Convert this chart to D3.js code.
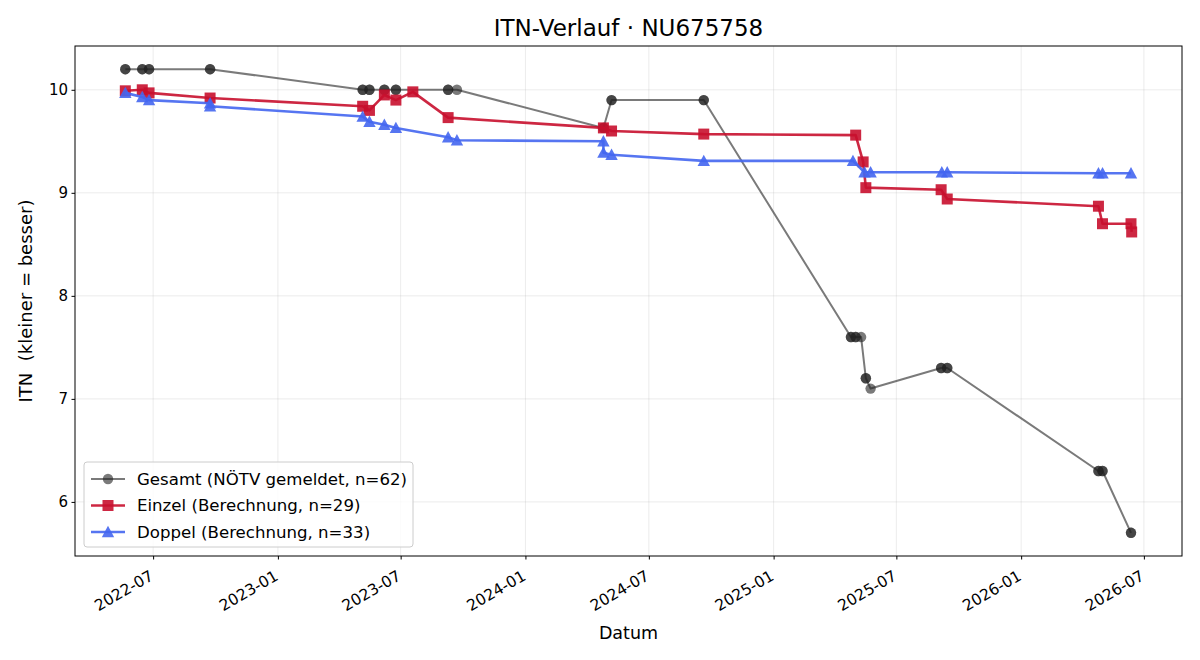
<!DOCTYPE html>
<html>
<head>
<meta charset="utf-8">
<script src="https://cdn.jsdelivr.net/npm/d3@7"></script>
<style>
  body { margin: 0; background: #fff; }
  svg text { font-family: "DejaVu Sans", sans-serif; fill: #000; }
</style>
</head>
<body>
<div id="chart"></div>
<script>
// chart data
const gesamtDates = ["2022-05-21","2022-05-21","2022-06-15","2022-06-15","2022-06-25","2022-06-25","2022-09-23","2022-09-23",
  "2023-05-06","2023-05-06","2023-05-16","2023-05-16","2023-06-07","2023-06-07","2023-06-24","2023-06-24",
  "2023-09-09","2023-09-09","2023-09-22","2024-04-25","2024-04-25","2024-05-07","2024-05-07","2024-09-20","2024-09-20",
  "2025-04-25","2025-04-25","2025-05-02","2025-05-02","2025-05-10","2025-05-17","2025-05-17","2025-05-24",
  "2025-09-05","2025-09-05","2025-09-14","2025-09-14","2026-04-25","2026-04-25","2026-05-01","2026-05-01","2026-06-12","2026-06-12"];
const gesamtValues = [10.2,10.2,10.2,10.2,10.2,10.2,10.2,10.2,
  10.0,10.0,10.0,10.0,10.0,10.0,10.0,10.0,
  10.0,10.0,10.0,9.63,9.63,9.9,9.9,9.9,9.9,
  7.6,7.6,7.6,7.6,7.6,7.2,7.2,7.1,
  7.3,7.3,7.3,7.3,6.3,6.3,6.3,6.3,5.7,5.7];

const einzelDates = ["2022-05-21","2022-06-15","2022-06-25","2022-09-23","2023-05-06","2023-05-16","2023-06-07","2023-06-24",
  "2023-07-19","2023-09-09","2024-04-25","2024-05-07","2024-09-20","2025-05-02","2025-05-13","2025-05-17",
  "2025-09-05","2025-09-14","2026-04-25","2026-05-01","2026-06-12","2026-06-13"];
const einzelValues = [9.99,10.0,9.97,9.92,9.84,9.80,9.95,9.90,
  9.98,9.73,9.63,9.60,9.57,9.56,9.30,9.05,
  9.03,8.94,8.87,8.70,8.70,8.62];

const doppelDates = ["2022-05-21","2022-06-15","2022-06-25","2022-09-23","2022-09-23","2023-05-06","2023-05-16","2023-06-07",
  "2023-06-24","2023-09-09","2023-09-22","2024-04-25","2024-04-25","2024-05-07","2024-09-20","2025-04-28",
  "2025-05-15","2025-05-24","2025-09-06","2025-09-14","2026-04-25","2026-05-01","2026-06-12"];
const doppelValues = [9.97,9.93,9.90,9.87,9.84,9.74,9.69,9.66,
  9.63,9.54,9.51,9.50,9.39,9.37,9.31,9.31,
  9.20,9.20,9.20,9.20,9.19,9.19,9.19];

const legendLabels = ["Gesamt (NÖTV gemeldet, n=62)", "Einzel (Berechnung, n=29)", "Doppel (Berechnung, n=33)"];
const yTicks = [6, 7, 8, 9, 10];

const width = 1200, height = 660;
const margin = {top: 46, right: 18, bottom: 104, left: 75};
const plotW = width - margin.left - margin.right;
const plotH = height - margin.top - margin.bottom;

const parseDate = d3.timeParse("%Y-%m-%d");
const toPoints = (dates, values) => dates.map((d, i) => ({date: parseDate(d), value: values[i]}));

const series = [
  {name: legendLabels[0], points: toPoints(gesamtDates, gesamtValues), color: "#222222", opacity: 0.6, lw: 2, marker: "circle"},
  {name: legendLabels[1], points: toPoints(einzelDates, einzelValues), color: "#c8102e", opacity: 0.9, lw: 2.6, marker: "square"},
  {name: legendLabels[2], points: toPoints(doppelDates, doppelValues), color: "#4466f0", opacity: 0.9, lw: 2.6, marker: "triangle"}
];

const allPts = series.flatMap(s => s.points);
// matplotlib-like 5% margins
const [xMin, xMax] = d3.extent(allPts, d => +d.date);
const [yMin, yMax] = d3.extent(allPts, d => d.value);
const xPad = (xMax - xMin) * 0.05, yPad = (yMax - yMin) * 0.05;

const x = d3.scaleTime().domain([new Date(xMin - xPad), new Date(xMax + xPad)]).range([0, plotW]);
const y = d3.scaleLinear().domain([yMin - yPad, yMax + yPad]).range([plotH, 0]);

const svg = d3.select("#chart")
  .append("svg")
  .attr("width", width)
  .attr("height", height);

svg.append("text")
  .attr("x", margin.left + plotW / 2)
  .attr("y", 36)
  .attr("text-anchor", "middle")
  .style("font-size", "23px")
  .text("ITN-Verlauf · NU675758");

const g = svg.append("g").attr("transform", `translate(${margin.left},${margin.top})`);

const xTicks = x.ticks(d3.timeMonth.every(6)).filter(d => d.getMonth() === 0 || d.getMonth() === 6);

// grid
g.append("g").selectAll("line")
  .data(xTicks).enter().append("line")
  .attr("x1", d => x(d)).attr("x2", d => x(d))
  .attr("y1", 0).attr("y2", plotH)
  .attr("stroke", "#b0b0b0").attr("stroke-opacity", 0.3).attr("stroke-width", 0.8);
g.append("g").selectAll("line")
  .data(yTicks).enter().append("line")
  .attr("x1", 0).attr("x2", plotW)
  .attr("y1", d => y(d)).attr("y2", d => y(d))
  .attr("stroke", "#b0b0b0").attr("stroke-opacity", 0.3).attr("stroke-width", 0.8);

// axes
const xAxis = g.append("g")
  .attr("transform", `translate(0,${plotH})`)
  .call(d3.axisBottom(x).tickValues(xTicks).tickFormat(d3.timeFormat("%Y-%m")).tickSizeOuter(0).tickSize(3.5).tickPadding(3.5));
xAxis.select(".domain").remove();
xAxis.selectAll("line").attr("stroke", "#000");
xAxis.selectAll("text")
  .style("font-size", "15.5px")
  .attr("text-anchor", "end")
  .attr("dy", null)
  .attr("y", null)
  .attr("transform", "translate(1,23) rotate(-30)");

const yAxis = g.append("g")
  .call(d3.axisLeft(y).tickValues(yTicks).tickFormat(d3.format("d")).tickSizeOuter(0).tickSize(3.5).tickPadding(3.5));
yAxis.select(".domain").remove();
yAxis.selectAll("line").attr("stroke", "#000");
yAxis.selectAll("text").style("font-size", "15px");

// lines + markers
const line = d3.line().x(d => x(d.date)).y(d => y(d.value));

function markerPath(type) {
  if (type === "circle") return d3.symbol(d3.symbolCircle, Math.PI * 5.2 * 5.2)();
  if (type === "square") return "M-5.5,-5.5H5.5V5.5H-5.5Z";
  return "M0,-6.2L6.2,5.2L-6.2,5.2Z";
}

series.forEach(s => {
  const sg = g.append("g").attr("class", "series");
  sg.append("path")
    .datum(s.points)
    .attr("d", line)
    .attr("fill", "none")
    .attr("stroke", s.color)
    .attr("stroke-opacity", s.opacity)
    .attr("stroke-width", s.lw)
    .attr("stroke-linejoin", "round");
  sg.selectAll(".mk")
    .data(s.points)
    .enter().append("path")
    .attr("class", "mk")
    .attr("transform", d => `translate(${x(d.date)},${y(d.value)})`)
    .attr("d", markerPath(s.marker))
    .attr("fill", s.color)
    .attr("fill-opacity", s.opacity);
});

// frame
g.append("rect")
  .attr("width", plotW).attr("height", plotH)
  .attr("fill", "none").attr("stroke", "#000").attr("stroke-width", 1);

// axis labels
svg.append("text")
  .attr("x", margin.left + plotW / 2)
  .attr("y", 639)
  .attr("text-anchor", "middle")
  .style("font-size", "17.5px")
  .text("Datum");

svg.append("text")
  .attr("transform", `translate(32,${margin.top + plotH / 2}) rotate(-90)`)
  .attr("text-anchor", "middle")
  .style("font-size", "18px")
  .style("white-space", "pre")
  .text("ITN  (kleiner = besser)");

// legend
const legend = svg.append("g").attr("transform", "translate(84,462)");
legend.append("rect")
  .attr("width", 329).attr("height", 85)
  .attr("rx", 3)
  .attr("fill", "#fff").attr("fill-opacity", 0.8)
  .attr("stroke", "#cccccc");
series.forEach((s, i) => {
  const row = legend.append("g").attr("transform", `translate(0,${17 + i * 26.5})`);
  row.append("line")
    .attr("x1", 7).attr("x2", 41)
    .attr("stroke", s.color).attr("stroke-opacity", s.opacity)
    .attr("stroke-width", s.lw);
  row.append("path")
    .attr("transform", "translate(24,0)")
    .attr("d", markerPath(s.marker))
    .attr("fill", s.color).attr("fill-opacity", s.opacity);
  row.append("text")
    .attr("x", 53).attr("y", 0)
    .attr("dy", "0.35em")
    .style("font-size", "16.6px")
    .text(s.name);
});
</script>
</body>
</html>
